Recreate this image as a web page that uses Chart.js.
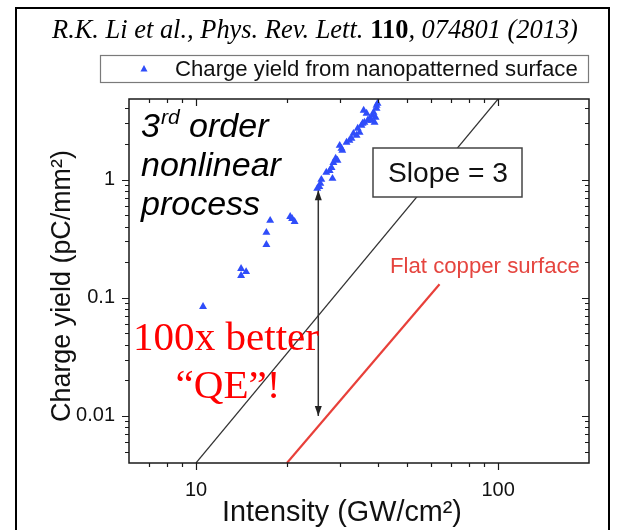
<!DOCTYPE html>
<html><head><meta charset="utf-8">
<script src="https://cdn.jsdelivr.net/npm/chart.js@4.4.1/dist/chart.umd.min.js"></script>
<style>html,body{margin:0;padding:0;background:#fff;overflow:hidden}canvas{display:block}</style>
</head><body>
<canvas id="c" width="625" height="530"></canvas>
<script>
// ---- data ----
const intensity = [10.55, 14.1, 14.65, 14.1, 17.1, 17.1, 17.6, 20.5, 20.8, 21.2,
  25.2, 25.6, 25.8, 26.0, 27.0, 27.7, 28.3, 28.1, 28.5, 29.0, 29.4, 30.3, 30.5, 29.9,
  31.5, 32.2, 32.7, 33.2, 34.0, 34.3, 34.8, 35.3, 35.6, 36.1, 35.9, 36.7, 37.0, 37.6,
  38.1, 38.4, 38.7, 39.0, 39.3, 39.6, 39.6, 39.9];
const chargeYield = [0.084, 0.176, 0.166, 0.154, 0.281, 0.356, 0.45, 0.486, 0.467, 0.44,
  0.84, 0.87, 0.925, 1.0, 1.15, 1.19, 1.02, 1.26, 1.39, 1.51, 1.45, 1.83, 1.76, 1.94,
  2.06, 2.14, 2.23, 2.45, 2.36, 2.71, 2.5, 2.87, 2.98, 3.04, 3.84, 3.63, 3.16, 3.29,
  3.16, 3.49, 3.70, 3.04, 3.35, 4.0, 4.24, 4.41];
const slopeX = [10, 100];
const slopeY = [0.004, 4.8];
const copperX = [20, 64];
const copperY = [0.004, 0.13];
const arrowX = [25.4, 25.4];
const arrowY = [0.81, 0.01];
const xTickValues = [6, 7, 8, 9, 10, 20, 30, 40, 50, 60, 70, 80, 90, 100, 200];
const xTickLabels = {"10": "10", "100": "100"};
const yTickValues = [0.004, 0.005, 0.006, 0.007, 0.008, 0.009, 0.01, 0.02, 0.03, 0.04, 0.05, 0.06, 0.07, 0.08, 0.09,
  0.1, 0.2, 0.3, 0.4, 0.5, 0.6, 0.7, 0.8, 0.9, 1, 2, 3, 4];
const yTickLabels = {"0.01": "0.01", "0.1": "0.1", "1": "1"};
const xRange = [6, 200];
const yRange = [0.004, 4.8];
const seriesLabel = "Charge yield from nanopatterned surface";
const titleParts = ["R.K. Li et al., Phys. Rev. Lett. ", "110", ", 074801 (2013)"];
const xTitle = "Intensity (GW/cm²)";
const yTitle = "Charge yield (pC/mm²)";

const pts = (xs, ys) => xs.map((v, i) => ({x: v, y: ys[i]}));
const SANS = '"Liberation Sans", Arial, sans-serif';
const SERIF = '"Liberation Serif", "Times New Roman", serif';

function fitSize(ctx, text, style, family, target) {
  ctx.font = style + ' 100px ' + family;
  return 100 * target / ctx.measureText(text).width;
}

const annot = {
  id: 'annot',
  afterDatasetsDraw(chart) {
    const {ctx, chartArea: a, scales: {x, y}} = chart;
    ctx.save();
    // plot frame
    ctx.strokeStyle = '#1a1a1a'; ctx.lineWidth = 1.5;
    ctx.strokeRect(a.left, a.top, a.right - a.left, a.bottom - a.top);
    // tick marks on four sides
    ctx.lineWidth = 1.2;
    ctx.beginPath();
    xTickValues.forEach(v => {
      const px = Math.round(x.getPixelForValue(v)) + 0.5;
      if (px <= a.left + 1 || px >= a.right - 1) return;
      const len = xTickLabels[String(v)] ? 7 : 4;
      ctx.moveTo(px, a.bottom); ctx.lineTo(px, a.bottom + len);
      ctx.moveTo(px, a.top); ctx.lineTo(px, a.top + len);
    });
    yTickValues.forEach(v => {
      const py = Math.round(y.getPixelForValue(v)) + 0.5;
      if (py <= a.top + 1 || py >= a.bottom - 1) return;
      const len = yTickLabels[String(v)] ? 7 : 4;
      ctx.moveTo(a.left, py); ctx.lineTo(a.left - len, py);
      ctx.moveTo(a.right, py); ctx.lineTo(a.right - len, py);
    });
    ctx.stroke();
    // arrow heads
    const am = chart.getDatasetMeta(3).data;
    ctx.fillStyle = '#222';
    const head = (p, dir) => {
      ctx.beginPath();
      ctx.moveTo(p.x, p.y);
      ctx.lineTo(p.x - 3.5, p.y + dir * 10);
      ctx.lineTo(p.x + 3.5, p.y + dir * 10);
      ctx.closePath(); ctx.fill();
    };
    head(am[0], 1); head(am[1], -1);

    // "Slope = 3" box
    ctx.fillStyle = '#fff'; ctx.strokeStyle = '#444'; ctx.lineWidth = 1.5;
    ctx.fillRect(373, 148, 149, 49); ctx.strokeRect(373, 148, 149, 49);
    let s = fitSize(ctx, 'Slope = 3', '', SANS, 120);
    ctx.font = s + 'px ' + SANS; ctx.fillStyle = '#111';
    ctx.textAlign = 'center'; ctx.textBaseline = 'middle';
    ctx.fillText('Slope = 3', 448, 174);

    // 3rd order nonlinear process
    s = fitSize(ctx, 'nonlinear', 'italic', SANS, 140);
    ctx.textAlign = 'left'; ctx.textBaseline = 'alphabetic';
    ctx.font = 'italic ' + s + 'px ' + SANS; ctx.fillStyle = '#000';
    ctx.fillText('3', 141, 137);
    const w3 = ctx.measureText('3').width;
    ctx.font = 'italic ' + (s * 0.62) + 'px ' + SANS;
    ctx.fillText('rd', 141 + w3 + 1, 137 - s * 0.38);
    const wrd = ctx.measureText('rd').width;
    ctx.font = 'italic ' + s + 'px ' + SANS;
    ctx.fillText(' order', 141 + w3 + 1 + wrd, 137);
    ctx.fillText('nonlinear', 141, 176);
    ctx.fillText('process', 141, 215);

    // Flat copper surface
    s = fitSize(ctx, 'Flat copper surface', '', SANS, 190);
    ctx.font = s + 'px ' + SANS; ctx.fillStyle = '#e5453f';
    ctx.textBaseline = 'middle';
    ctx.fillText('Flat copper surface', 390, 267);

    // 100x better "QE"!
    s = fitSize(ctx, '100x better', '', SERIF, 186);
    ctx.font = s + 'px ' + SERIF; ctx.fillStyle = '#ff0000';
    ctx.textAlign = 'center'; ctx.textBaseline = 'alphabetic';
    ctx.fillText('100x better', 226, 350);
    ctx.fillText('\u201CQE\u201D!', 228, 398);
    ctx.restore();
  },
  afterDraw(chart) {
    const {ctx} = chart;
    ctx.save();
    // outer frame
    ctx.strokeStyle = '#000'; ctx.lineWidth = 2;
    ctx.strokeRect(16, 8, 593, 560);
    // title
    ctx.font = 'italic 100px ' + SERIF;
    const w1 = ctx.measureText(titleParts[0]).width, w3 = ctx.measureText(titleParts[2]).width;
    ctx.font = 'bold 100px ' + SERIF;
    const w2 = ctx.measureText(titleParts[1]).width;
    const k = 526 / (w1 + w2 + w3);
    const fs = 100 * k;
    let tx = 315 - 263;
    ctx.fillStyle = '#000'; ctx.textBaseline = 'alphabetic'; ctx.textAlign = 'left';
    ctx.font = 'italic ' + fs + 'px ' + SERIF; ctx.fillText(titleParts[0], tx, 38); tx += w1 * k;
    ctx.font = 'bold ' + fs + 'px ' + SERIF; ctx.fillText(titleParts[1], tx, 38); tx += w2 * k;
    ctx.font = 'italic ' + fs + 'px ' + SERIF; ctx.fillText(titleParts[2], tx, 38);
    // legend box
    ctx.strokeStyle = '#7a7a7a'; ctx.lineWidth = 1.2;
    ctx.strokeRect(100.5, 55.5, 488, 27);
    ctx.fillStyle = '#2f4dfa';
    ctx.beginPath(); ctx.moveTo(144, 65); ctx.lineTo(147.5, 71.5); ctx.lineTo(140.5, 71.5); ctx.closePath(); ctx.fill();
    let s = fitSize(ctx, seriesLabel, '', SANS, 403);
    ctx.font = s + 'px ' + SANS; ctx.fillStyle = '#111'; ctx.textBaseline = 'middle';
    ctx.fillText(seriesLabel, 175, 69.5);
    // axis titles
    s = fitSize(ctx, xTitle, '', SANS, 240);
    ctx.font = s + 'px ' + SANS; ctx.textAlign = 'center'; ctx.textBaseline = 'alphabetic';
    ctx.fillText(xTitle, 342, 521);
    s = fitSize(ctx, yTitle, '', SANS, 272);
    ctx.font = s + 'px ' + SANS;
    ctx.translate(70, 286); ctx.rotate(-Math.PI / 2);
    ctx.fillText(yTitle, 0, 0);
    ctx.restore();
  }
};

new Chart(document.getElementById('c'), {
  type: 'scatter',
  data: {
    datasets: [
      {label: seriesLabel, data: pts(intensity, chargeYield), pointStyle: 'triangle', pointRadius: 4.6,
       backgroundColor: '#2f4dfa', borderColor: '#2f4dfa', borderWidth: 0, showLine: false, clip: false},
      {label: 'slope', data: pts(slopeX, slopeY), showLine: true, borderColor: '#333', borderWidth: 1.2, pointRadius: 0},
      {label: 'copper', data: pts(copperX, copperY), showLine: true, borderColor: '#e8403a', borderWidth: 2.2, pointRadius: 0},
      {label: 'arrow', data: pts(arrowX, arrowY), showLine: true, borderColor: '#333', borderWidth: 1.5, pointRadius: 0}
    ]
  },
  options: {
    responsive: false, animation: false, devicePixelRatio: 1,
    layout: {padding: {left: 0, top: 99, right: 36, bottom: 0}},
    plugins: {legend: {display: false}, tooltip: {enabled: false}, title: {display: false}},
    scales: {
      x: {type: 'logarithmic', position: 'bottom', min: xRange[0], max: xRange[1],
          grid: {display: false, drawTicks: false}, border: {display: false},
          afterBuildTicks: sc => { sc.ticks = xTickValues.map(v => ({value: v})); },
          afterFit: sc => { sc.height = 67; },
          ticks: {autoSkip: false, maxRotation: 0, padding: 15, color: '#111',
                  font: {family: SANS, size: 20},
                  callback: v => xTickLabels[String(v)] || ''}},
      y: {type: 'logarithmic', position: 'left', min: yRange[0], max: yRange[1],
          grid: {display: false, drawTicks: false}, border: {display: false},
          afterBuildTicks: sc => { sc.ticks = yTickValues.map(v => ({value: v})); },
          afterFit: sc => { sc.width = 129; },
          ticks: {autoSkip: false, padding: 14, color: '#111',
                  font: {family: SANS, size: 20},
                  callback: v => yTickLabels[String(v)] || ''}}
    }
  },
  plugins: [annot]
});
</script>
</body></html>
